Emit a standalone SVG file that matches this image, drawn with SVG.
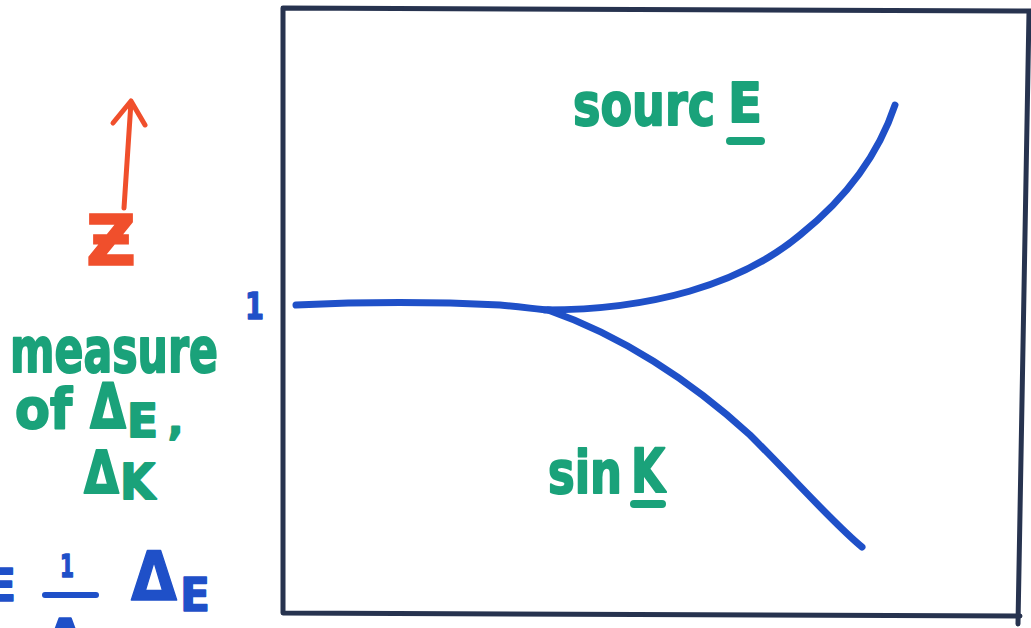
<svg xmlns="http://www.w3.org/2000/svg" width="1031" height="628" viewBox="0 0 1031 628">
<style>
.g{fill:#1aa27a;stroke:#1aa27a;stroke-width:2;stroke-linejoin:round;font-family:"DejaVu Sans",sans-serif;font-weight:bold}
.b{fill:#1f50c8;stroke:#1f50c8;stroke-width:1.5;stroke-linejoin:round;font-family:"DejaVu Sans",sans-serif;font-weight:bold}
.r{fill:#f04f2c;stroke:#f04f2c;stroke-width:1.5;font-family:"DejaVu Sans",sans-serif;font-weight:bold}
.box{fill:none;stroke:#27334f;stroke-width:5;stroke-linecap:round;stroke-linejoin:round}
.curve{fill:none;stroke:#1f50c8;stroke-width:7;stroke-linecap:round;stroke-linejoin:round}
.ul{stroke:#1aa27a;stroke-width:8;stroke-linecap:round}
.ra{fill:none;stroke:#f04f2c;stroke-width:5;stroke-linecap:round;stroke-linejoin:round}
</style>
<rect width="1031" height="628" fill="#ffffff"/>
<g id="frame">
<path class="box" d="M1031,11 L283,8 L283,613 L1020,616"/>
<path class="box" d="M1029,12 L1018,624"/>
</g>
<g id="connectors">
<path class="curve" d="M296,305 C360,302 440,302 500,305 C525,307 540,310 550,310"/>
<path class="curve" d="M545,310 C650,310 740,285 800,235 C850,195 880,150 895,105"/>
<path class="curve" d="M548,310 C620,335 690,380 750,435 C800,485 835,525 862,547"/>
</g>
<g id="z-axis">
<path class="ra" d="M124,208 L131,102 M113,123 L131,101 L145,125"/>
<text class="r" x="86" y="265" font-size="70" textLength="50" lengthAdjust="spacingAndGlyphs">Ƶ</text>
</g>
<g id="label-one">
<text class="b" x="245" y="319" font-size="38" textLength="19" lengthAdjust="spacingAndGlyphs">1</text>
</g>
<g id="source">
<text class="g" x="573" y="125" font-size="58"><tspan textLength="142" lengthAdjust="spacingAndGlyphs">sourc</tspan><tspan x="728" y="122" font-size="56" textLength="34" lengthAdjust="spacingAndGlyphs">E</tspan></text>
<line class="ul" x1="730" y1="141" x2="761" y2="141"/>
</g>
<g id="sink">
<text class="g" x="548" y="493" font-size="58"><tspan textLength="74" lengthAdjust="spacingAndGlyphs">sin</tspan><tspan x="631" y="492" font-size="60" textLength="34" lengthAdjust="spacingAndGlyphs">K</tspan></text>
<line class="ul" x1="634" y1="504" x2="662" y2="504"/>
</g>
<g id="measure">
<text class="g" x="10" y="372" font-size="62" textLength="208" lengthAdjust="spacingAndGlyphs">measure</text>
<text class="g" x="15" y="428" font-size="56"><tspan textLength="57" lengthAdjust="spacingAndGlyphs">of</tspan><tspan x="90" font-size="62" textLength="36" lengthAdjust="spacingAndGlyphs">Δ</tspan><tspan x="127" y="437" font-size="46" textLength="31" lengthAdjust="spacingAndGlyphs">E</tspan><tspan x="168" y="434" font-size="40">,</tspan></text>
<text class="g" x="84" y="493" font-size="58"><tspan textLength="35" lengthAdjust="spacingAndGlyphs">Δ</tspan><tspan x="120" y="499" font-size="50" textLength="35" lengthAdjust="spacingAndGlyphs">K</tspan></text>
</g>
<g id="formula">
<text class="b" x="-14" y="601" font-size="44">E</text>
<text class="b" x="60" y="577" font-size="32" font-weight="normal" textLength="14" lengthAdjust="spacingAndGlyphs">1</text>
<line x1="45" y1="595" x2="96" y2="595" stroke="#1f50c8" stroke-width="6" stroke-linecap="round"/>
<text class="b" x="45" y="656" font-size="52">Δ</text>
<text class="b" x="131" y="600" font-size="68"><tspan textLength="46" lengthAdjust="spacingAndGlyphs">Δ</tspan><tspan x="180" y="611" font-size="46" textLength="30" lengthAdjust="spacingAndGlyphs">E</tspan></text>
</g>
</svg>
